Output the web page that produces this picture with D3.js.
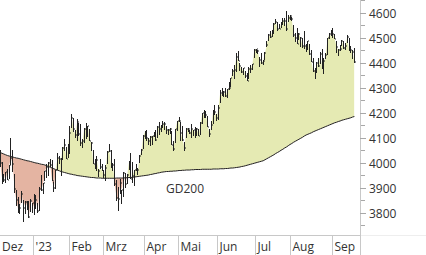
<!DOCTYPE html>
<html><head><meta charset="utf-8">
<script src="https://cdn.jsdelivr.net/npm/d3@7"></script>
<style>html,body{margin:0;padding:0;background:#fff;overflow:hidden}svg{display:block}</style>
</head><body><svg id="c" width="426" height="255"></svg>
<script>
// ---- data ----
const monthKeys = ["2022-12","2023-01","2023-02","2023-03","2023-04","2023-05","2023-06","2023-07","2023-08","2023-09"];
const monthLabels = ["Dez","'23","Feb","Mrz","Apr","Mai","Jun","Jul","Aug","Sep"];
const tradingDays = [
  [1,2,5,6,7,8,9,12,13,14,15,16,19,20,21,22,23,27,28,29,30],
  [3,4,5,6,9,10,11,12,13,17,18,19,20,23,24,25,26,27,30,31],
  [1,2,3,6,7,8,9,10,13,14,15,16,17,21,22,23,24,27,28],
  [1,2,3,6,7,8,9,10,13,14,15,16,17,20,21,22,23,24,27,28,29,30,31],
  [3,4,5,6,10,11,12,13,14,17,18,19,20,21,24,25,26,27,28],
  [1,2,3,4,5,8,9,10,11,12,15,16,17,18,19,22,23,24,25,26,30,31],
  [1,2,5,6,7,8,9,12,13,14,15,16,20,21,22,23,26,27,28,29,30],
  [3,5,6,7,10,11,12,13,14,17,18,19,20,21,24,25,26,27,28,31],
  [1,2,3,4,7,8,9,10,11,14,15,16,17,18,21,22,23,24,25,28,29,30,31],
  [1,5,6,7,8,11,12,13,14,15,18,19,20]
];
const high = [
  4101,4080,4052,4002,3958,3966,3977,3991,4101,4053,3958,3891,3865,3838,3890,3853,3846,3847,3848,3858,3840,
  3878,3873,3840,3906,3951,3920,3970,3998,4004,4015,4014,3923,3973,4039,4029,4020,4063,4094,4063,4077,
  4149,4195,4182,4130,4177,4161,4156,4094,4140,4160,4149,4137,4084,4051,4017,4028,3978,4018,3998,
  3972,3991,4048,4078,4051,4000,4018,3934,3905,3937,3894,3964,3959,3957,4009,4039,4004,3973,3998,3980,4031,4058,4111,
  4128,4133,4100,4108,4110,4124,4133,4150,4163,4152,4169,4163,4149,4138,4142,4126,4090,4138,4170,
  4184,4164,4148,4083,4142,4142,4130,4154,4133,4144,4139,4136,4165,4202,4213,4209,4186,4137,4166,4213,4231,4195,
  4232,4291,4299,4288,4299,4298,4323,4340,4375,4392,4439,4448,4400,4386,4382,4367,4362,4384,4390,4398,4458,
  4456,4454,4423,4440,4413,4443,4488,4517,4528,4533,4562,4578,4565,4555,4563,4581,4582,4607,4590,4594,
  4585,4551,4520,4540,4520,4503,4502,4527,4476,4490,4476,4450,4421,4382,4402,4419,4443,4458,4418,4440,4500,4522,4532,
  4541,4514,4490,4458,4474,4491,4487,4479,4512,4498,4466,4450,4461
];
const low = [
  4051,4027,3984,3918,3923,3921,3933,3935,3993,3966,3879,3828,3800,3796,3839,3764,3797,3813,3781,3805,3800,
  3794,3816,3802,3810,3890,3877,3929,3938,3948,3985,3927,3886,3898,3972,3996,3949,4012,4049,4016,4020,
  4037,4142,4123,4099,4088,4109,4070,4061,4080,4095,4104,4090,4048,3995,3977,3969,3943,3974,3969,
  3939,3928,3995,4045,3980,3970,3909,3846,3809,3874,3838,3864,3901,3917,3971,3936,3921,3909,3970,3952,4000,4032,4056,
  4094,4087,4073,4070,4073,4103,4087,4099,4113,4123,4140,4134,4115,4114,4118,4071,4049,4082,4127,
  4163,4090,4089,4048,4099,4124,4117,4099,4109,4099,4110,4110,4114,4154,4180,4180,4144,4104,4130,4156,4192,4166,
  4172,4241,4267,4263,4264,4261,4292,4304,4349,4338,4363,4407,4367,4360,4352,4341,4328,4335,4360,4372,4422,
  4442,4437,4385,4397,4390,4413,4463,4489,4500,4505,4515,4557,4528,4536,4541,4552,4548,4529,4564,4573,
  4568,4506,4486,4475,4491,4464,4461,4458,4444,4453,4432,4404,4365,4335,4360,4383,4396,4376,4356,4415,4432,4494,4507,
  4501,4496,4442,4430,4448,4468,4457,4454,4479,4447,4442,4417,4401
];
const close = [
  4077,4072,3999,3941,3934,3964,3934,3991,4020,3995,3896,3852,3818,3822,3878,3822,3845,3829,3783,3849,3840,
  3824,3853,3808,3895,3892,3919,3970,3983,3999,3991,3929,3899,3973,4020,4017,4016,4060,4071,4018,4077,
  4119,4180,4136,4111,4164,4118,4082,4090,4137,4136,4148,4090,4079,3997,3991,4012,3970,3982,3970,
  3951,3981,4046,4048,3986,3992,3918,3862,3856,3919,3892,3960,3917,3952,4003,3937,3949,3971,3978,3971,4028,4051,4109,
  4125,4101,4090,4105,4109,4109,4092,4146,4138,4151,4155,4155,4130,4134,4137,4072,4056,4135,4169,
  4168,4120,4091,4061,4136,4138,4119,4138,4131,4124,4136,4110,4159,4198,4192,4193,4146,4115,4151,4205,4206,4180,
  4221,4282,4274,4284,4268,4294,4299,4339,4369,4373,4426,4410,4389,4366,4382,4348,4329,4378,4377,4396,4450,
  4456,4447,4412,4399,4410,4439,4472,4510,4505,4523,4555,4566,4535,4536,4555,4567,4567,4537,4582,4589,
  4577,4513,4502,4478,4518,4499,4468,4469,4464,4490,4438,4404,4370,4370,4400,4388,4436,4376,4406,4433,4498,4515,4508,
  4516,4497,4465,4451,4457,4487,4462,4467,4505,4450,4454,4444,4402
];
const gd200 = [
  4050,4046,4042,4039,4036,4033,4030,4028,4026,4024,4022,4020,4019,4017,4015,4013,4011,4009,4008,4006,4004,
  4002,4000,3999,3997,3995,3994,3992,3989,3986,3983,3980,3977,3974,3971,3969,3966,3964,3962,3960,3958,
  3956,3955,3953,3952,3950,3949,3948,3947,3946,3945,3944,3943,3942,3942,3941,3940,3940,3940,3939,
  3939,3939,3939,3939,3939,3939,3939,3940,3940,3940,3940,3940,3941,3941,3942,3942,3943,3944,3945,3946,3947,3948,3949,
  3950,3951,3952,3954,3955,3957,3958,3960,3961,3963,3964,3965,3966,3966,3967,3967,3968,3968,3969,
  3970,3970,3971,3971,3972,3972,3972,3973,3973,3974,3974,3974,3974,3975,3975,3975,3975,3975,3975,3976,3976,3976,
  3976,3977,3977,3977,3978,3978,3979,3980,3980,3981,3982,3983,3984,3986,3987,3989,3991,3993,3995,
  3997,3999,4001,4003,4005,4007,4009,4013,4017,4021,4025,4029,4033,4038,4042,4046,4051,4055,4060,4064,
  4069,4074,4078,4083,4087,4091,4095,4099,4103,4108,4112,4115,4118,4121,4125,4128,4131,4134,4137,4140,4143,4146,4149,
  4152,4155,4158,4161,4163,4166,4168,4171,4173,4175,4177,4179,4181,4184,4186
];
const yTicks = [3800,3900,4000,4100,4200,4300,4400,4500,4600];
const yMinorTicks = [3750,3850,3950,4050,4150,4250,4350,4450,4550,4650];
const maLabel = "GD200";

// ---- build ----
const dates = tradingDays.flatMap((days,m)=>days.map(d=>monthKeys[m]+"-"+String(d).padStart(2,"0")));
const n = Math.min(dates.length, high.length, low.length, close.length, gd200.length);
const data = dates.slice(0,n).map((d,i)=>({date:d, high:high[i], low:low[i], close:close[i], ma:gd200[i]}));
const monthStarts = tradingDays.map((days,m)=>monthKeys[m]+"-"+String(days[0]).padStart(2,"0"));

const W=426, H=255, plotR=356, axisX=360.5, axisY=235.5;
const FONT = "'Open Sans', 'Noto Sans', sans-serif";
const GREEN="#e5eab3", RED="#e4b4a2", INK="#222", GRID="#c8c8c8", TXT="#333";

const x = d3.scaleBand().domain(dates).range([-4.26, 355.3]);
const y = d3.scaleLinear().domain([3700,4600]).range([238,13]);
const xc = d => x(d.date) + x.bandwidth()/2;
const px = v => Math.floor(v)+0.5;

const svg = d3.select("#c");
const defs = svg.append("defs");
defs.append("clipPath").attr("id","plot").append("rect").attr("x",0).attr("y",0).attr("width",plotR).attr("height",235);
defs.append("clipPath").attr("id","above").append("path")
  .attr("d", d3.area().x(xc).y0(-10).y1(d=>y(d.ma))(data));
defs.append("clipPath").attr("id","below").append("path")
  .attr("d", d3.area().x(xc).y0(H+10).y1(d=>y(d.ma))(data));

const g = svg.append("g").attr("clip-path","url(#plot)");
const band = d3.area().x(xc).y0(d=>y(d.ma)).y1(d=>y(d.close));
g.append("g").attr("clip-path","url(#above)").append("path").attr("d",band(data)).attr("fill",GREEN);
g.append("g").attr("clip-path","url(#below)").append("path").attr("d",band(data)).attr("fill",RED);

// moving average line
g.append("path").attr("d", d3.line().x(xc).y(d=>y(d.ma))(data))
  .attr("fill","none").attr("stroke",INK).attr("stroke-width",1);

// HLC bars
const bars = g.append("g").attr("fill",INK);
bars.selectAll("rect.hl").data(data).join("rect").attr("class","hl")
  .attr("x", d=>Math.floor(xc(d))).attr("width",1)
  .attr("y", d=>Math.round(y(d.high))).attr("height", d=>Math.max(1, Math.round(y(d.low))-Math.round(y(d.high))));
bars.selectAll("rect.cl").data(data).join("rect").attr("class","cl")
  .attr("x", d=>Math.floor(xc(d))+1).attr("width",1)
  .attr("y", d=>Math.round(y(d.close))-0.5).attr("height",1);

// axis lines
svg.append("line").attr("x1",0).attr("x2",361).attr("y1",axisY).attr("y2",axisY).attr("stroke",GRID);
svg.append("line").attr("x1",361).attr("x2",W).attr("y1",axisY).attr("y2",axisY).attr("stroke","#eeeeee");
svg.append("line").attr("x1",axisX).attr("x2",axisX).attr("y1",0).attr("y2",H).attr("stroke",GRID);

// y axis
const yAxis = svg.append("g").attr("transform",`translate(360,0)`)
  .call(d3.axisRight(y).tickValues(yTicks).tickSize(6).tickPadding(3).tickFormat(d3.format("d")));
yAxis.select(".domain").remove();
yAxis.selectAll(".tick").attr("transform", d=>`translate(0,${px(y(d))})`);
yAxis.selectAll(".tick line").attr("stroke","#a8a8a8").attr("y1",0).attr("y2",0);
yAxis.selectAll(".tick text").attr("fill",TXT).attr("font-family",FONT).attr("font-size",12).attr("dy","0.34em");
svg.append("g").selectAll("line").data(yMinorTicks).join("line")
  .attr("x1",361).attr("x2",365).attr("y1",d=>px(y(d))).attr("y2",d=>px(y(d))).attr("stroke","#a8a8a8");

// x axis
const xAxis = svg.append("g").attr("transform",`translate(0,${axisY-0.5})`)
  .call(d3.axisBottom(x).tickValues(monthStarts).tickSize(20).tickFormat((d,i)=>monthLabels[i]));
xAxis.select(".domain").remove();
xAxis.selectAll(".tick").attr("transform", d=>`translate(${px(x(d))},0)`);
xAxis.selectAll(".tick line").attr("stroke",GRID).attr("x1",0).attr("x2",0);
xAxis.selectAll(".tick text").attr("fill",TXT).attr("font-family",FONT).attr("font-size",12)
  .attr("text-anchor","start").attr("dy",null).attr("y",16)
  .attr("x", d=>Math.max(2, px(x(d))+2) - px(x(d)));

// MA label
svg.append("text").attr("x",166).attr("y",193).attr("fill",TXT)
  .attr("font-family",FONT).attr("font-size",12).text(maLabel);
</script></body></html>
